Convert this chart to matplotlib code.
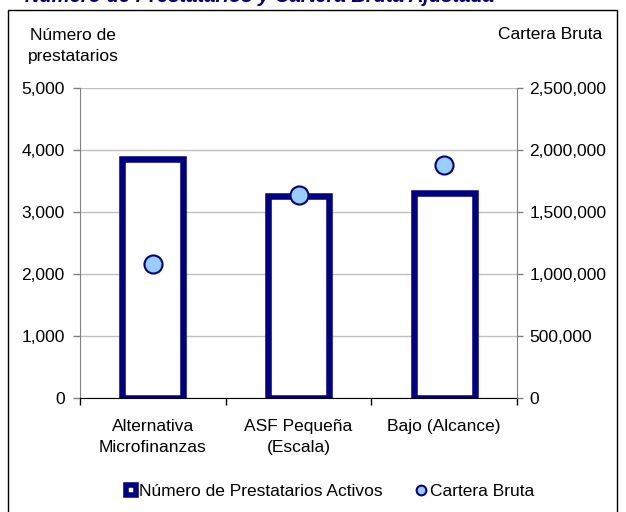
import matplotlib
matplotlib.use('Agg')
import matplotlib.pyplot as plt
from matplotlib.lines import Line2D
from matplotlib.patches import Rectangle
import matplotlib.ticker as mticker

plt.rcParams['font.family'] = ['Liberation Sans', 'DejaVu Sans']

# datos
categorias = ['Alternativa\nMicrofinanzas', 'ASF Pequeña\n(Escala)', 'Bajo (Alcance)']
prestatarios = [3850, 3260, 3310]
cartera = [1080000, 1635000, 1880000]

navy = '#000080'
celeste = '#99CCFF'
fs = 12.5

fig = plt.figure(figsize=(6.26, 5.12), dpi=100)
ax = fig.add_axes([80 / 626, 1 - 398 / 512, 437 / 626, 310 / 512])

# barras
x = list(range(len(categorias)))
ax.bar(x, prestatarios, width=0.42, facecolor='white', edgecolor=navy,
       linewidth=4.7, zorder=2)
ax.set_xlim(-0.5, 2.5)
ax.set_ylim(0, 5000)
ax.set_yticks(range(0, 5001, 1000))
ax.yaxis.set_major_formatter(mticker.FuncFormatter(lambda v, p: f'{v:,.0f}'))
ax.yaxis.grid(True, color='#C0C0C0', linewidth=1)
ax.set_axisbelow(True)

ax.set_xticks([-0.5, 0.5, 1.5, 2.5])
ax.set_xticklabels([])
ax.set_xticks(x, minor=True)
ax.set_xticklabels(categorias, minor=True, fontsize=fs, linespacing=1.5)
ax.tick_params(axis='x', which='minor', length=0, pad=15)
ax.tick_params(axis='x', which='major', length=5, width=1, color='black', direction='out')
ax.tick_params(axis='y', length=5, width=1, color='#808080', labelsize=fs, pad=6)

for s in ['top', 'right']:
    ax.spines[s].set_visible(False)
ax.spines['left'].set_color('#808080')
ax.spines['bottom'].set_color('black')

# eje secundario
ax2 = ax.twinx()
ax2.plot(x, cartera, linestyle='none', marker='o', markersize=13,
         markerfacecolor=celeste, markeredgecolor=navy, markeredgewidth=1.5,
         zorder=5, clip_on=False)
ax2.set_ylim(0, 2500000)
ax2.set_yticks(range(0, 2500001, 500000))
ax2.yaxis.set_major_formatter(mticker.FuncFormatter(lambda v, p: f'{v:,.0f}'))
ax2.tick_params(axis='y', length=4, width=1, color='#808080', labelsize=fs, pad=5)
for s in ['top', 'left', 'bottom']:
    ax2.spines[s].set_visible(False)
ax2.spines['right'].set_color('#808080')

# títulos de ejes
fig.text(73 / 626, 1 - 61 / 512, 'Número de\nprestatarios', ha='center', va='baseline',
         fontsize=fs, linespacing=1.5)
fig.text(550 / 626, 1 - 39 / 512, 'Cartera Bruta', ha='center', va='baseline', fontsize=fs)

# título (recortado arriba)
fig.text(25 / 626, 1 - 2 / 512, 'Número de Prestatarios y Cartera Bruta Ajustada',
         ha='left', va='baseline', fontsize=14.5, fontweight='bold', fontstyle='italic',
         color=navy)

# marco
fig.patches.append(Rectangle((8 / 626, -0.05), 609 / 626, 1.05 - 10 / 512,
                             transform=fig.transFigure, fill=False,
                             edgecolor='black', linewidth=1))

# leyenda
handles = [
    Line2D([], [], linestyle='none', marker='s', markersize=7, markerfacecolor='white',
           markeredgecolor=navy, markeredgewidth=4),
    Line2D([], [], linestyle='none', marker='o', markersize=7, markerfacecolor=celeste,
           markeredgecolor=navy, markeredgewidth=1.5),
]
fig.legend(handles, ['Número de Prestatarios Activos', 'Cartera Bruta'],
           loc='center', bbox_to_anchor=(329 / 626, 1 - 491 / 512), ncol=2,
           frameon=False, fontsize=fs, handlelength=0.8, handletextpad=0.1,
           columnspacing=1.8)

fig.savefig('out.png', dpi=100)
